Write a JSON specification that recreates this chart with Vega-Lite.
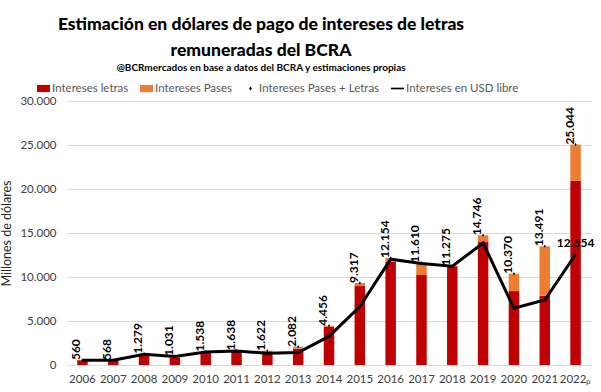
{
  "$schema": "https://vega.github.io/schema/vega-lite/v6.json",
  "width": 524,
  "height": 264,
  "autosize": {"type": "none"},
  "padding": {"left": 67, "top": 101, "right": 10, "bottom": 27},
  "background": "white",
  "title": {
    "text": ["Estimación en dólares de pago de intereses de letras", "remuneradas del BCRA"],
    "subtitle": "@BCRmercados en base a datos del BCRA y estimaciones propias",
    "anchor": "middle",
    "frame": "group",
    "dx": -68,
    "font": "Lato",
    "fontSize": 17.5,
    "fontWeight": 900,
    "lineHeight": 26,
    "color": "#000000",
    "subtitleFont": "Lato",
    "subtitleFontSize": 10,
    "subtitleFontWeight": "bold",
    "subtitleColor": "#000000",
    "subtitlePadding": 4,
    "offset": 9
  },
  "datasets": {
    "bars": [
      {"year": "2006", "serie": "Intereses letras", "orden": 1, "value": 540},
      {"year": "2006", "serie": "Intereses Pases", "orden": 2, "value": 20},
      {"year": "2007", "serie": "Intereses letras", "orden": 1, "value": 548},
      {"year": "2007", "serie": "Intereses Pases", "orden": 2, "value": 20},
      {"year": "2008", "serie": "Intereses letras", "orden": 1, "value": 1240},
      {"year": "2008", "serie": "Intereses Pases", "orden": 2, "value": 39},
      {"year": "2009", "serie": "Intereses letras", "orden": 1, "value": 800},
      {"year": "2009", "serie": "Intereses Pases", "orden": 2, "value": 231},
      {"year": "2010", "serie": "Intereses letras", "orden": 1, "value": 1480},
      {"year": "2010", "serie": "Intereses Pases", "orden": 2, "value": 58},
      {"year": "2011", "serie": "Intereses letras", "orden": 1, "value": 1600},
      {"year": "2011", "serie": "Intereses Pases", "orden": 2, "value": 38},
      {"year": "2012", "serie": "Intereses letras", "orden": 1, "value": 1420},
      {"year": "2012", "serie": "Intereses Pases", "orden": 2, "value": 202},
      {"year": "2013", "serie": "Intereses letras", "orden": 1, "value": 1850},
      {"year": "2013", "serie": "Intereses Pases", "orden": 2, "value": 232},
      {"year": "2014", "serie": "Intereses letras", "orden": 1, "value": 4350},
      {"year": "2014", "serie": "Intereses Pases", "orden": 2, "value": 106},
      {"year": "2015", "serie": "Intereses letras", "orden": 1, "value": 8970},
      {"year": "2015", "serie": "Intereses Pases", "orden": 2, "value": 347},
      {"year": "2016", "serie": "Intereses letras", "orden": 1, "value": 11716},
      {"year": "2016", "serie": "Intereses Pases", "orden": 2, "value": 438},
      {"year": "2017", "serie": "Intereses letras", "orden": 1, "value": 10214},
      {"year": "2017", "serie": "Intereses Pases", "orden": 2, "value": 1396},
      {"year": "2018", "serie": "Intereses letras", "orden": 1, "value": 11230},
      {"year": "2018", "serie": "Intereses Pases", "orden": 2, "value": 45},
      {"year": "2019", "serie": "Intereses letras", "orden": 1, "value": 13970},
      {"year": "2019", "serie": "Intereses Pases", "orden": 2, "value": 776},
      {"year": "2020", "serie": "Intereses letras", "orden": 1, "value": 8400},
      {"year": "2020", "serie": "Intereses Pases", "orden": 2, "value": 1970},
      {"year": "2021", "serie": "Intereses letras", "orden": 1, "value": 7880},
      {"year": "2021", "serie": "Intereses Pases", "orden": 2, "value": 5611},
      {"year": "2022ₚ", "serie": "Intereses letras", "orden": 1, "value": 20940},
      {"year": "2022ₚ", "serie": "Intereses Pases", "orden": 2, "value": 4104}
    ],
    "years": [
      {"year": "2006", "total": 560, "usd": 540},
      {"year": "2007", "total": 568, "usd": 550},
      {"year": "2008", "total": 1279, "usd": 1220},
      {"year": "2009", "total": 1031, "usd": 960},
      {"year": "2010", "total": 1538, "usd": 1480},
      {"year": "2011", "total": 1638, "usd": 1600},
      {"year": "2012", "total": 1622, "usd": 1330},
      {"year": "2013", "total": 2082, "usd": 1420},
      {"year": "2014", "total": 4456, "usd": 3250},
      {"year": "2015", "total": 9317, "usd": 6640},
      {"year": "2016", "total": 12154, "usd": 12020},
      {"year": "2017", "total": 11610, "usd": 11530},
      {"year": "2018", "total": 11275, "usd": 11230},
      {"year": "2019", "total": 14746, "usd": 13860},
      {"year": "2020", "total": 10370, "usd": 6450},
      {"year": "2021", "total": 13491, "usd": 7390},
      {"year": "2022ₚ", "total": 25044, "usd": 12554}
    ]
  },
  "encoding": {
    "x": {
      "field": "year",
      "type": "nominal",
      "sort": null,
      "scale": {"paddingInner": 0.66, "paddingOuter": 0.33},
      "axis": {
        "title": null,
        "labelAngle": 0,
        "ticks": false,
        "domain": false,
        "labelPadding": 8,
        "labelFont": "Lato",
        "labelFontSize": 11.5,
        "labelColor": "#404040"
      }
    }
  },
  "layer": [
    {
      "data": {"name": "bars"},
      "mark": {"type": "bar"},
      "encoding": {
        "y": {
          "field": "value",
          "type": "quantitative",
          "stack": "zero",
          "scale": {"domain": [0, 30000], "nice": false},
          "axis": {
            "title": "Millones de dólares",
            "values": [0, 5000, 10000, 15000, 20000, 25000, 30000],
            "format": ",d",
            "ticks": false,
            "domain": false,
            "gridColor": "#D9D9D9",
            "labelPadding": 11,
            "labelFont": "Lato",
            "labelFontSize": 11.5,
            "labelColor": "#404040",
            "titleFont": "Lato",
            "titleFontSize": 12.5,
            "titleFontWeight": "normal",
            "titleColor": "#262626",
            "titlePadding": 6
          }
        },
        "color": {
          "field": "serie",
          "type": "nominal",
          "scale": {
            "domain": ["Intereses letras", "Intereses Pases", "Intereses Pases + Letras", "Intereses en USD libre"],
            "range": ["#C00000", "#ED7D31", "#000000", "#000000"]
          },
          "legend": {
            "title": null,
            "orient": "none",
            "direction": "horizontal",
            "legendX": -30,
            "legendY": -19,
            "labelFont": "Lato",
            "labelFontSize": 11.5,
            "labelColor": "#595959",
            "symbolSize": 169,
            "symbolStrokeWidth": 0,
            "labelOffset": 2,
            "columnPadding": 11
          }
        },
        "order": {"field": "orden", "type": "quantitative"}
      }
    },
    {
      "data": {"name": "years"},
      "mark": {"type": "line", "strokeWidth": 3},
      "encoding": {
        "y": {"field": "usd", "type": "quantitative"},
        "color": {"datum": "Intereses en USD libre"}
      }
    },
    {
      "data": {"name": "years"},
      "mark": {"type": "point", "filled": true, "opacity": 1, "size": 100},
      "encoding": {
        "y": {"field": "total", "type": "quantitative"},
        "color": {"datum": "Intereses Pases + Letras"},
        "shape": {
          "datum": "Intereses Pases + Letras",
          "scale": {
            "domain": ["Intereses letras", "Intereses Pases", "Intereses Pases + Letras", "Intereses en USD libre"],
            "range": ["M-1,-0.55H1V0.55H-1Z", "M-1,-0.55H1V0.55H-1Z", "M0,-0.3L0.22,0L0,0.3L-0.22,0Z", "M-1,-0.13H1V0.13H-1Z"]
          }
        }
      }
    },
    {
      "data": {"name": "years"},
      "mark": {"type": "text", "angle": -90, "align": "left", "baseline": "middle", "dy": -6, "font": "Lato", "fontSize": 12, "fontWeight": "bold", "color": "#000000"},
      "encoding": {
        "y": {"field": "total", "type": "quantitative"},
        "text": {"field": "total", "type": "quantitative", "format": ",d"}
      }
    },
    {
      "data": {"name": "years"},
      "transform": [{"filter": "datum.year == '2022ₚ'"}],
      "mark": {"type": "text", "align": "center", "baseline": "bottom", "dy": -5, "font": "Lato", "fontSize": 12, "fontWeight": "bold", "color": "#000000"},
      "encoding": {
        "y": {"field": "usd", "type": "quantitative"},
        "text": {"field": "usd", "type": "quantitative", "format": ",d"}
      }
    }
  ],
  "config": {
    "locale": {"number": {"decimal": ",", "thousands": ".", "grouping": [3], "currency": ["$", ""]}},
    "view": {"stroke": null},
    "axis": {"gridColor": "#D9D9D9"},
    "axisX": {"grid": false}
  }
}
